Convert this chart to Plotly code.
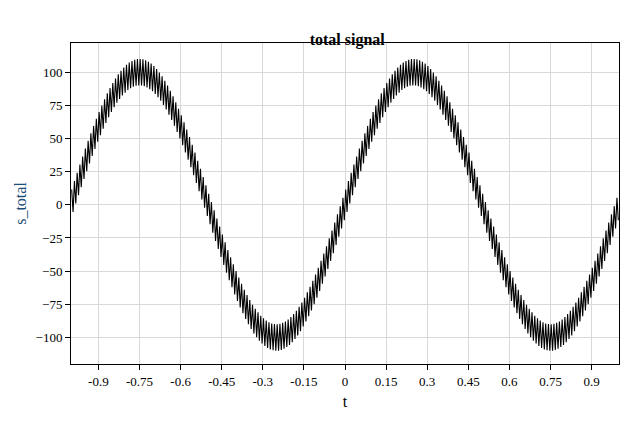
import plotly.graph_objects as go

# slow component read at the extrema of the fast ripple over a quarter period (rising part)
quarter_slow = [1.6, 4.7, 7.9, 11.0, 14.1, 17.2, 20.3, 23.3, 26.4, 29.4, 32.4, 35.3, 38.3, 41.2, 44.0,
                46.8, 49.5, 52.2, 54.9, 57.5, 60.0, 62.5, 64.9, 67.3, 69.6, 71.8, 74.0, 76.0, 78.0, 80.0,
                81.8, 83.6, 85.3, 86.9, 88.4, 89.8, 91.1, 92.4, 93.6, 94.6, 95.6, 96.5, 97.2, 97.9, 98.5,
                99.0, 99.4, 99.7, 99.9, 100.0]
ripple_amplitude = 10
half = quarter_slow + quarter_slow[::-1]
one_period = half + [-v for v in half]
slow = one_period + one_period
s_total = [v + (ripple_amplitude if k % 2 == 0 else -ripple_amplitude) for k, v in enumerate(slow)]
t = [round(-0.9975 + 0.005 * k, 4) for k in range(len(s_total))]
x_ticks = [-0.9, -0.75, -0.6, -0.45, -0.3, -0.15, 0, 0.15, 0.3, 0.45, 0.6, 0.75, 0.9]
y_ticks = [-100, -75, -50, -25, 0, 25, 50, 75, 100]

fig = go.Figure(go.Scatter(x=t, y=s_total, mode="lines", line=dict(color="black", width=1.1)))
ax = dict(showline=True, linecolor="black", mirror=True, ticks="outside", tickcolor="black",
          gridcolor="#d9d9d9", zeroline=False)
fig.update_layout(
    width=640, height=423, plot_bgcolor="white", paper_bgcolor="white",
    font=dict(family="Liberation Serif", size=13, color="black"),
    title=dict(text="<b>total signal</b>", x=0.53, y=0.94, xanchor="center", font=dict(size=16)),
    margin=dict(l=56, r=29, t=35, b=67), showlegend=False,
    xaxis=dict(ax, range=[-1, 1], tickvals=x_ticks, ticktext=[str(v) for v in x_ticks],
               title=dict(text="t", standoff=8)),
    yaxis=dict(ax, range=[-120, 122], tickvals=y_ticks,
               title=dict(text="s_total", font=dict(color="#1f4e79"), standoff=4)),
)
fig.write_html("out.html")
